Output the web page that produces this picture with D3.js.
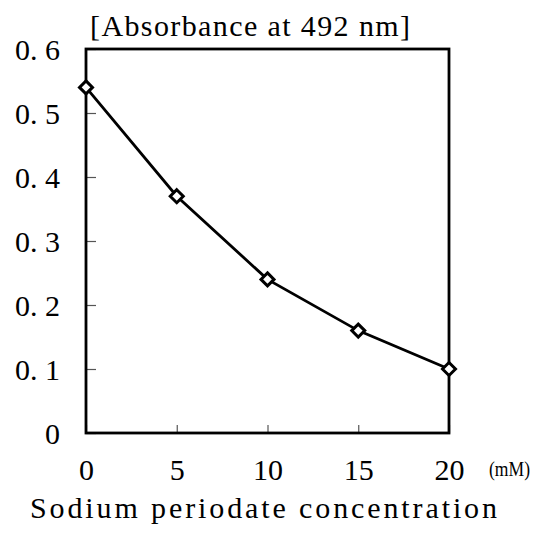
<!DOCTYPE html>
<html>
<head>
<meta charset="utf-8">
<script src="https://cdn.jsdelivr.net/npm/d3@7"></script>
<style>
  body { margin: 0; background: #fff; }
  svg { display: block; }
  text { font-family: "Liberation Serif", "DejaVu Serif", serif; fill: #000; }
</style>
</head>
<body>
<svg id="chart" width="548" height="533"></svg>
<script>
// === Données ===
const concentrations = [0, 5, 10, 15, 20];          // mM
const absorbance = [0.54, 0.37, 0.24, 0.16, 0.10];  // A492
const xTicks = [0, 5, 10, 15, 20];
const yTicks = [0, 0.1, 0.2, 0.3, 0.4, 0.5, 0.6];
const yTickLabels = ["0", "0. 1", "0. 2", "0. 3", "0. 4", "0. 5", "0. 6"];

const svg = d3.select('#chart');
const plotLeft = 86, plotRight = 449, plotTop = 49, plotBottom = 433;

const x = d3.scaleLinear().domain([0, 20]).range([plotLeft, plotRight]);
const y = d3.scaleLinear().domain([0, 0.6]).range([plotBottom, plotTop]);

// axe Y (graduations vers l'intérieur)
const yAxis = svg.append('g')
  .attr('transform', `translate(${plotLeft},0)`)
  .call(d3.axisLeft(y)
    .tickValues(yTicks)
    .tickSizeInner(-10)
    .tickSizeOuter(0)
    .tickPadding(26)
    .tickFormat((d, i) => yTickLabels[i]));
yAxis.select('.domain').remove();
yAxis.selectAll('line').attr('stroke', '#555').attr('stroke-width', 1.2);
yAxis.selectAll('text').style('font-size', '30px').attr('dy', '0.34em');

// axe X
const xAxis = svg.append('g')
  .attr('transform', `translate(0,${plotBottom})`)
  .call(d3.axisBottom(x)
    .tickValues(xTicks)
    .tickSizeInner(-8)
    .tickSizeOuter(0)
    .tickPadding(26)
    .tickFormat(d3.format('d')));
xAxis.select('.domain').remove();
xAxis.selectAll('line').attr('stroke', '#555').attr('stroke-width', 1.2);
xAxis.selectAll('text').style('font-size', '30px');

// cadre
svg.append('rect')
  .attr('x', plotLeft).attr('y', plotTop)
  .attr('width', plotRight - plotLeft).attr('height', plotBottom - plotTop)
  .attr('fill', 'none')
  .attr('stroke', '#000')
  .attr('stroke-width', 2.8);

// courbe
const data = concentrations.map((c, i) => ({ c, a: absorbance[i] }));
svg.append('path')
  .datum(data)
  .attr('fill', 'none')
  .attr('stroke', '#000')
  .attr('stroke-width', 2.8)
  .attr('d', d3.line().x(d => x(d.c)).y(d => y(d.a)));

// marqueurs losanges
svg.append('g').selectAll('path')
  .data(data)
  .enter().append('path')
  .attr('transform', d => `translate(${x(d.c)},${y(d.a)})`)
  .attr('d', 'M0,-6.5L6.5,0L0,6.5L-6.5,0Z')
  .attr('fill', '#fff')
  .attr('stroke', '#000')
  .attr('stroke-width', 3);

// titres
svg.append('text')
  .attr('x', 90).attr('y', 36)
  .attr('textLength', 320).attr('lengthAdjust', 'spacing')
  .style('font-size', '30px')
  .text('[Absorbance at 492 nm]');

svg.append('text')
  .attr('x', 489).attr('y', 476)
  .attr('textLength', 41).attr('lengthAdjust', 'spacingAndGlyphs')
  .style('font-size', '22px')
  .text('(mM)');

svg.append('text')
  .attr('x', 30).attr('y', 518)
  .attr('textLength', 467).attr('lengthAdjust', 'spacing')
  .style('font-size', '30px')
  .text('Sodium periodate concentration');
</script>
</body>
</html>
